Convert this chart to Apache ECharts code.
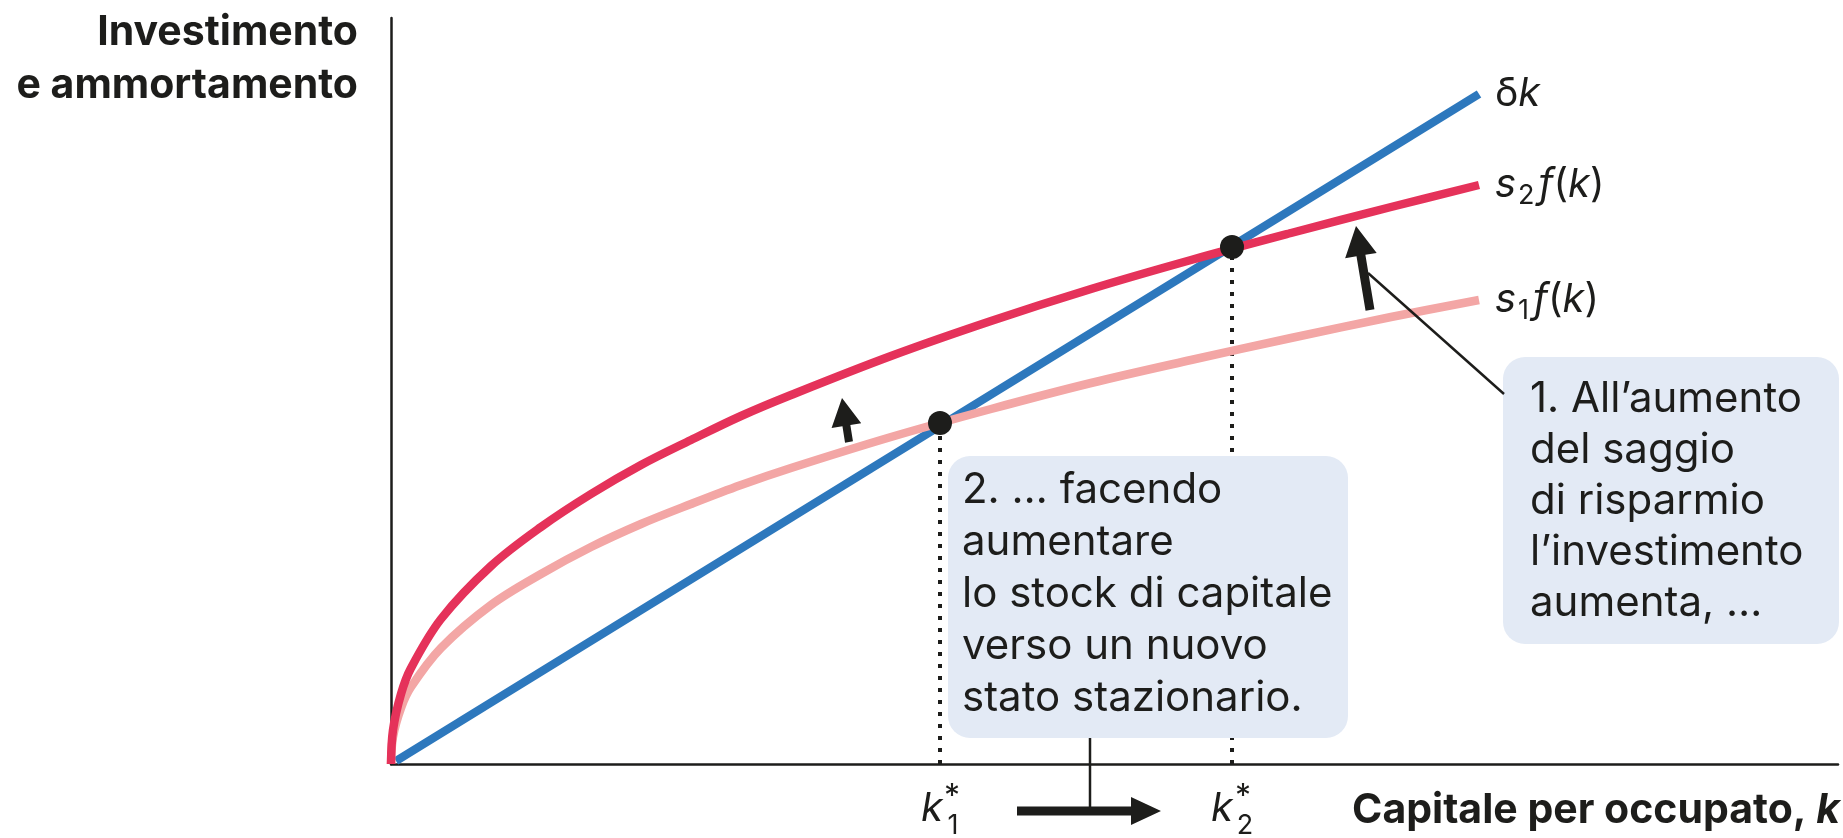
<!DOCTYPE html>
<html>
<head>
<meta charset="utf-8">
<script src="https://cdn.jsdelivr.net/npm/echarts@6/dist/echarts.min.js"></script>
<style>
    html, body { margin: 0; padding: 0; background: #fff; }
    #main { width: 1843px; height: 838px; }
</style>
</head>
<body>
<div id="main"></div>
<script type="text/javascript">
    // capital per worker k, and the curves
    var kVals = [0, 0.02, 0.1, 0.2, 0.5, 1, 1.5, 2, 2.5, 3, 3.5, 4, 5, 6, 7, 8, 9, 10, 10.88];
    var s2f = [0, 0.34, 0.70, 0.96, 1.45, 1.98, 2.37, 2.70, 2.99, 3.24, 3.48, 3.69, 4.08, 4.43, 4.75, 5.04, 5.31, 5.57, 5.79];
    var s1f = [0, 0.27, 0.56, 0.77, 1.16, 1.59, 1.90, 2.17, 2.40, 2.60, 2.79, 2.96, 3.27, 3.55, 3.81, 4.04, 4.26, 4.47, 4.64];
    var depK = [0.05, 10.88];
    var depVal = [0.03, 6.70];
    // steady states k1*, k2*
    var steadyK = [5.49, 8.41];
    var steadyVal = [3.41, 5.17];

    // annotation arrows, in data units [tail, tip]
    var smallArrow = [[4.58, 3.22], [4.51, 3.66]];
    var bigArrow = [[9.79, 4.54], [9.65, 5.38]];
    var leader = [[9.77, 4.91], [11.13, 3.70]];
    var moveArrow = [[6.26, -0.47], [7.70, -0.47]];
    var connector = [[6.99, 0.26], [6.99, -0.47]];

    var INK = '#1d1d1b';
    var FONT = 'Inter, "Noto Sans", sans-serif';

    function pairs(xs, ys) {
        return xs.map(function (x, i) { return [x, ys[i]]; });
    }

    var dotted = steadyK.map(function (k, i) {
        return {
            type: 'line',
            data: [[k, 0], [k, steadyVal[i]]],
            showSymbol: false,
            silent: true,
            z: 1,
            lineStyle: { color: INK, width: 4, type: [4, 8] }
        };
    });

    var option = {
        animation: false,
        grid: { left: 391, right: 5, top: 18, bottom: 74 },
        xAxis: {
            type: 'value', min: 0, max: 14.47,
            axisLine: { show: true, onZero: false, lineStyle: { color: INK, width: 2.5 } },
            axisTick: { show: false }, axisLabel: { show: false }, splitLine: { show: false }
        },
        yAxis: {
            type: 'value', min: 0, max: 7.46,
            axisLine: { show: true, onZero: false, lineStyle: { color: INK, width: 2.5 } },
            axisTick: { show: false }, axisLabel: { show: false }, splitLine: { show: false }
        },
        series: dotted.concat([
            {
                name: 'dk', type: 'line', data: pairs(depK, depVal),
                showSymbol: false, z: 2,
                lineStyle: { color: '#2d78bd', width: 8.5 }
            },
            {
                name: 's1', type: 'line', data: pairs(kVals, s1f),
                smooth: 0.35, showSymbol: false, z: 3,
                lineStyle: { color: '#f3a6a5', width: 8.5 }
            },
            {
                name: 's2', type: 'line', data: pairs(kVals, s2f),
                smooth: 0.35, showSymbol: false, z: 4,
                lineStyle: { color: '#e5325a', width: 8.5 }
            },
            {
                type: 'scatter', data: pairs(steadyK, steadyVal),
                symbolSize: 24, z: 6,
                itemStyle: { color: INK, opacity: 1 }
            }
        ])
    };

    var chart = echarts.init(document.getElementById('main'));
    chart.setOption(option);

    function px(p) { return chart.convertToPixel({ gridIndex: 0 }, p); }

    function arrowPoly(seg, sw, hw, hl) {
        var a = px(seg[0]), b = px(seg[1]);
        var dx = b[0] - a[0], dy = b[1] - a[1];
        var len = Math.sqrt(dx * dx + dy * dy);
        var ux = dx / len, uy = dy / len, nx = -uy, ny = ux;
        var bx = b[0] - ux * hl, by = b[1] - uy * hl;
        return [
            [a[0] + nx * sw / 2, a[1] + ny * sw / 2],
            [bx + nx * sw / 2, by + ny * sw / 2],
            [bx + nx * hw / 2, by + ny * hw / 2],
            b,
            [bx - nx * hw / 2, by - ny * hw / 2],
            [bx - nx * sw / 2, by - ny * sw / 2],
            [a[0] - nx * sw / 2, a[1] - ny * sw / 2]
        ];
    }

    function seg(s, w) {
        var a = px(s[0]), b = px(s[1]);
        return {
            type: 'line', z: 120,
            shape: { x1: a[0], y1: a[1], x2: b[0], y2: b[1] },
            style: { stroke: INK, lineWidth: w }
        };
    }

    function txt(x, y, text, extra) {
        var st = {
            text: text, x: x, y: y, fill: INK,
            fontFamily: FONT, fontSize: 40,
            align: 'left', verticalAlign: 'middle',
            textAlign: 'left', textVerticalAlign: 'middle'
        };
        for (var key in extra) { st[key] = extra[key]; }
        if (st.align) { st.textAlign = st.align; }
        if (st.verticalAlign) { st.textVerticalAlign = st.verticalAlign; }
        return { type: 'text', z: 130, style: st };
    }

    var richMath = {
        n: { fontFamily: FONT, fontSize: 40, lineHeight: 48, fill: INK },
        i: { fontFamily: FONT, fontSize: 40, lineHeight: 48, fontStyle: 'italic', fill: INK },
        sub: { fontFamily: FONT, fontSize: 27, lineHeight: 20, verticalAlign: 'bottom', padding: [0, 4, 0, 2], fill: INK }
    };

    var endDk = px([depK[1], depVal[1]]);
    var endS2 = px([kVals[kVals.length - 1], s2f[s2f.length - 1]]);
    var endS1 = px([kVals[kVals.length - 1], s1f[s1f.length - 1]]);
    var k1 = px([steadyK[0], 0]);
    var k2 = px([steadyK[1], 0]);

    var boxFill = '#e3eaf5';

    var graphics = [
        // y axis title
        txt(358, 33, 'Investimento', { fontWeight: 'bold', fontSize: 41, align: 'right' }),
        txt(358, 86, 'e ammortamento', { fontWeight: 'bold', fontSize: 41, align: 'right' }),
        // x axis title
        txt(1840, 811, '{b|Capitale per occupato, }{bi|k}', {
            align: 'right',
            rich: {
                b: { fontFamily: FONT, fontSize: 41, fontWeight: 'bold', fill: INK },
                bi: { fontFamily: FONT, fontSize: 41, fontWeight: 'bold', fontStyle: 'italic', fill: INK }
            }
        }),
        // curve labels
        txt(endDk[0] + 16, endDk[1], '{n|δ}{i|k}', { rich: richMath }),
        txt(endS2[0] + 16, endS2[1], '{i|s}{sub|2}{i|f}{n|(}{i|k}{n|)}', { rich: richMath }),
        txt(endS1[0] + 16, endS1[1], '{i|s}{sub|1}{i|f}{n|(}{i|k}{n|)}', { rich: richMath }),
        // k1*, k2*
        txt(k1[0] - 8, 809, 'k', { fontStyle: 'italic', fontSize: 40, align: 'center' }),
        txt(k1[0] + 12, 797, '*', { fontSize: 32, align: 'center' }),
        txt(k1[0] + 13, 826, '1', { fontSize: 27, align: 'center' }),
        txt(k2[0] - 10, 809, 'k', { fontStyle: 'italic', fontSize: 40, align: 'center' }),
        txt(k2[0] + 11, 797, '*', { fontSize: 32, align: 'center' }),
        txt(k2[0] + 13, 826, '2', { fontSize: 27, align: 'center' }),
        // boxes
        { type: 'rect', z: 100, shape: { x: 948, y: 456, width: 400, height: 282, r: 22 }, style: { fill: boxFill } },
        { type: 'rect', z: 100, shape: { x: 1503, y: 357, width: 336, height: 287, r: 22 }, style: { fill: boxFill } },
        txt(962, 464, '2. … facendo\naumentare\nlo stock di capitale\nverso un nuovo\nstato stazionario.',
            { fontSize: 42, lineHeight: 52, verticalAlign: 'top' }),
        txt(1530, 374, '1. All\u2019aumento\ndel saggio\ndi risparmio\nl\u2019investimento\naumenta, …',
            { fontSize: 42, lineHeight: 51, verticalAlign: 'top' }),
        // leader lines
        seg(leader, 2.5),
        seg(connector, 2.5),
        // arrows
        { type: 'polygon', z: 125, shape: { points: arrowPoly(smallArrow, 8, 30, 28) }, style: { fill: INK } },
        { type: 'polygon', z: 125, shape: { points: arrowPoly(bigArrow, 9, 32, 30) }, style: { fill: INK } },
        { type: 'polygon', z: 125, shape: { points: arrowPoly(moveArrow, 9, 28, 30) }, style: { fill: INK } }
    ];

    chart.setOption({ graphic: graphics });
</script>
</body>
</html>
